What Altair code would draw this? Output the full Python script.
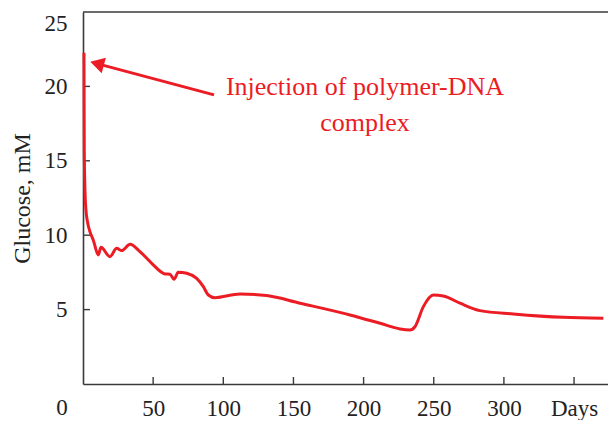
import altair as alt
import pandas as pd

# ---- data ----
days = [0.7, 0.9, 1.4, 2.1, 3.2, 5.0, 7.3, 10.9, 12.8, 19.2, 24.0, 27.6, 33.5, 40.6, 49.0,
        58.4, 62.0, 64.9, 67.9, 73.9, 81.0, 85.8, 89.3, 94.0, 111.9, 130.9, 154.7,
        190.3, 211.7, 226.0, 233.0, 236.6, 242.6, 249.7, 256.8, 268.7, 283.0, 306.7,
        342.3, 370.9]
glucose = [22.26, 15.74, 13.05, 11.7, 10.9, 10.22, 9.68, 8.67, 9.19, 8.56, 9.12, 8.97, 9.39,
           8.9, 8.11, 7.4, 7.38, 7.04, 7.51, 7.44, 7.1, 6.54, 5.98, 5.8, 6.05, 5.94, 5.43,
           4.64, 4.08, 3.7, 3.63, 3.85, 5.2, 5.98, 5.92, 5.43, 4.93, 4.71, 4.48, 4.42]

y_ticks = [5, 10, 15, 20]
x_ticks = [50, 100, 150, 200, 250, 300, 350]
y_label_values = [5, 10, 15, 20, 25]

annot_lines = ["Injection of polymer-DNA", "complex"]
annot_x = [201, 201]
annot_y = [19.43, 16.97]
arrow_tail = (93.4, 19.43)
arrow_head = (10.0, 21.53)

RED = "#EC1C24"
AXIS = "#3a3a3a"
FONT = "Liberation Serif"
W, H = 525, 372
XMAX = 374.2

xs = alt.Scale(domain=[0, XMAX], nice=False, zero=False)
ys = alt.Scale(domain=[0, 25], nice=False)

df = pd.DataFrame({"day": days, "glucose": glucose})

line = alt.Chart(df).mark_line(color=RED, strokeWidth=3, interpolate="monotone").encode(
    x=alt.X("day:Q", scale=xs,
            axis=alt.Axis(values=x_ticks, ticks=False, grid=False, title=None,
                          labelExpr="datum.value == 350 ? 'Days' : datum.label",
                          labelFont=FONT, labelFontSize=23, labelColor="#222",
                          labelPadding=13, domainColor=AXIS, domainWidth=1.6)),
    y=alt.Y("glucose:Q", scale=ys,
            axis=alt.Axis(values=y_label_values, ticks=False, grid=False,
                          title="Glucose, mM", titleFont=FONT, titleFontSize=24,
                          titleFontWeight="normal", titleColor="#222",
                          titleX=-49, titleY=H / 2,
                          labelFont=FONT, labelFontSize=23, labelColor="#222",
                          labelPadding=16,
                          labelBaseline=alt.expr("datum.value == 25 ? 'top' : 'middle'"),
                          domainColor=AXIS, domainWidth=1.6)),
)

top_frame = alt.Chart(pd.DataFrame({"a": [0]})).mark_rule(color=AXIS, strokeWidth=1.6).encode(
    x=alt.value(0), x2=alt.value(W), y=alt.value(0)
)

ytick_df = pd.DataFrame({"v": y_ticks})
yticks = alt.Chart(ytick_df).mark_rule(color=AXIS, strokeWidth=1.4).encode(
    y=alt.Y("v:Q", scale=ys), x=alt.value(0), x2=alt.value(7)
)

xtick_df = pd.DataFrame({"v": x_ticks})
xticks = alt.Chart(xtick_df).mark_rule(color=AXIS, strokeWidth=1.4).encode(
    x=alt.X("v:Q", scale=xs), y=alt.value(H), y2=alt.value(H - 7)
)

zero_df = pd.DataFrame({"v": [0], "t": ["0"]})
zero_lbl = alt.Chart(zero_df).mark_text(font=FONT, fontSize=23, color="#222",
                                        baseline="top", dx=-21, dy=13).encode(
    x=alt.X("v:Q", scale=xs), y=alt.Y("v:Q", scale=ys), text="t:N"
)

arrow_df = pd.DataFrame({"x": [arrow_tail[0]], "y": [arrow_tail[1]],
                         "x2": [arrow_head[0]], "y2": [arrow_head[1]]})
shaft = alt.Chart(arrow_df).mark_rule(color=RED, strokeWidth=3).encode(
    x=alt.X("x:Q", scale=xs), y=alt.Y("y:Q", scale=ys), x2="x2:Q", y2="y2:Q"
)
head_df = pd.DataFrame({"x": [arrow_head[0]], "y": [arrow_head[1]]})
head = alt.Chart(head_df).mark_point(shape="triangle-left", filled=True, opacity=1,
                                     color=RED, size=260, angle=15).encode(
    x=alt.X("x:Q", scale=xs), y=alt.Y("y:Q", scale=ys)
)

annot_df = pd.DataFrame({"x": annot_x, "y": annot_y, "t": annot_lines})
annot = alt.Chart(annot_df).mark_text(font=FONT, fontSize=26, color=RED,
                                      baseline="alphabetic", align="center").encode(
    x=alt.X("x:Q", scale=xs), y=alt.Y("y:Q", scale=ys), text="t:N"
)

chart = alt.layer(top_frame, yticks, xticks, line, shaft, head, annot, zero_lbl).properties(
    width=W, height=H,
    autosize=alt.AutoSizeParams(type="none"),
    padding={"left": 75, "top": 4, "right": 0, "bottom": 36},
).configure_view(stroke=None)

chart.save("out.html", embed_options={"renderer": "svg", "actions": False})
